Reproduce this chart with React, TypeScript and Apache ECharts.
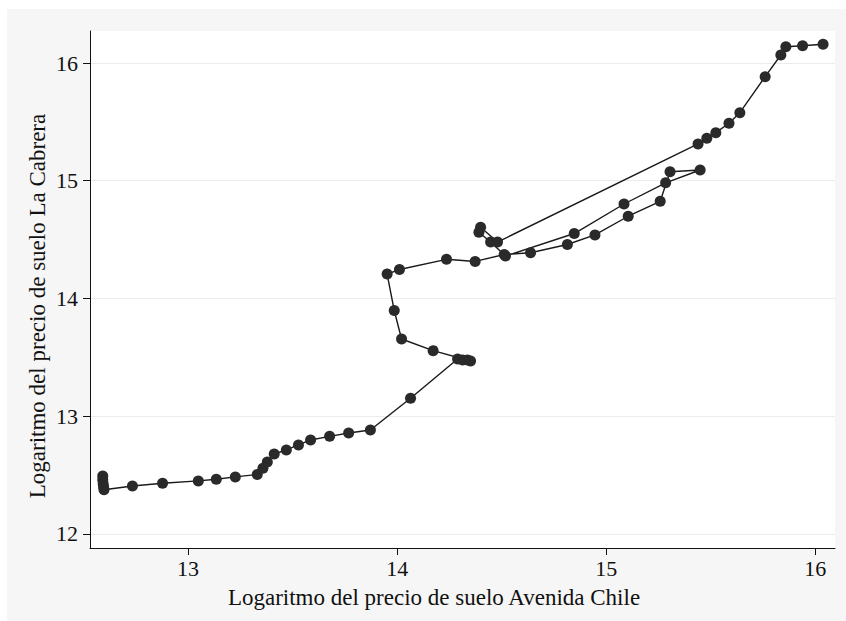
import React, { useEffect, useRef } from "react";
import * as echarts from "echarts";

// Logaritmo del precio de suelo Avenida Chile (x) vs La Cabrera (y), in time order
const avenidaChile: number[] = [
  12.592, 12.592, 12.594, 12.596, 12.598,
  12.734, 12.878, 13.049, 13.135, 13.226, 13.331,
  13.358, 13.379, 13.412, 13.47, 13.528, 13.586, 13.677, 13.768, 13.872,
  14.064, 14.289, 14.313, 14.336, 14.351,
  14.172, 14.021, 13.986, 13.952, 14.011, 14.236, 14.373, 14.512,
  14.638, 14.814, 14.946, 15.105, 15.258, 15.305, 15.449,
  15.284, 15.085, 14.847, 14.518,
  14.447, 14.391, 14.399, 14.48,
  15.439, 15.481, 15.524, 15.587, 15.639, 15.76, 15.835, 15.859, 15.939, 16.037,
];
const laCabrera: number[] = [
  12.491, 12.457, 12.423, 12.398, 12.374,
  12.406, 12.429, 12.449, 12.463, 12.483, 12.504,
  12.556, 12.61, 12.678, 12.712, 12.755, 12.797, 12.828, 12.856, 12.882,
  13.151, 13.485, 13.477, 13.477, 13.468,
  13.556, 13.655, 13.897, 14.207, 14.245, 14.332, 14.314, 14.373,
  14.388, 14.458, 14.539, 14.698, 14.825, 15.076, 15.091,
  14.982, 14.802, 14.551, 14.36,
  14.479, 14.562, 14.604, 14.479,
  15.312, 15.36, 15.408, 15.488, 15.578, 15.884, 16.068, 16.138, 16.147, 16.159,
];
const xTicks: number[] = [13, 14, 15, 16];
const yTicks: number[] = [12, 13, 14, 15, 16];
const xTitle = "Logaritmo del precio de suelo Avenida Chile";
const yTitle = "Logaritmo del precio de suelo La Cabrera";

const FONT = '"Liberation Serif", "DejaVu Serif", serif';

export default function App() {
  const ref = useRef<HTMLDivElement>(null);
  useEffect(() => {
    if (!ref.current) return;
    const chart = echarts.init(ref.current, null, { renderer: "svg" });
    const points = avenidaChile.map((x, i) => [x, laCabrera[i]]);
    chart.setOption({
      animation: false,
      backgroundColor: "#ffffff",
      graphic: [
        {
          type: "rect",
          z: -10,
          silent: true,
          shape: { x: 7, y: 9, width: 846 - 7, height: 621 - 9 },
          style: { fill: "#f6f6f6" },
        },
        {
          type: "text",
          x: 434,
          y: 597,
          style: {
            text: xTitle,
            font: `23px ${FONT}`,
            fill: "#111",
            align: "center",
            verticalAlign: "middle",
          },
        },
        {
          type: "text",
          x: 37,
          y: 306,
          rotation: Math.PI / 2,
          style: {
            text: yTitle,
            font: `23px ${FONT}`,
            fill: "#111",
            align: "center",
            verticalAlign: "middle",
          },
        },
      ],
      grid: {
        left: 90,
        top: 31,
        right: 11,
        bottom: 73,
        show: true,
        backgroundColor: "#ffffff",
        borderWidth: 0,
      },
      xAxis: {
        type: "value",
        min: 12.531,
        max: 16.094,
        axisLine: { show: true, onZero: false, lineStyle: { color: "#111", width: 1 } },
        axisTick: { show: true, inside: false, length: 7, customValues: xTicks, lineStyle: { color: "#111" } },
        axisLabel: { customValues: xTicks, margin: 9, fontFamily: FONT, fontSize: 22, color: "#111" },
        splitLine: { show: false },
      },
      yAxis: {
        type: "value",
        min: 11.879,
        max: 16.272,
        axisLine: { show: true, onZero: false, lineStyle: { color: "#111", width: 1 } },
        axisTick: { show: true, inside: false, length: 7, customValues: yTicks, lineStyle: { color: "#111" } },
        axisLabel: { customValues: yTicks, margin: 12, fontFamily: FONT, fontSize: 22, color: "#111" },
        splitLine: { show: true, lineStyle: { color: "#ececec", width: 1 } },
      },
      series: [
        {
          type: "line",
          data: points,
          symbol: "circle",
          symbolSize: 11,
          showAllSymbol: true,
          itemStyle: { color: "#2a2a2a" },
          lineStyle: { color: "#1a1a1a", width: 1.4 },
          z: 3,
        },
      ],
    });
    return () => chart.dispose();
  }, []);
  return (
    <div
      ref={ref}
      style={{ position: "fixed", left: 0, top: 0, width: 846, height: 621 }}
    />
  );
}
